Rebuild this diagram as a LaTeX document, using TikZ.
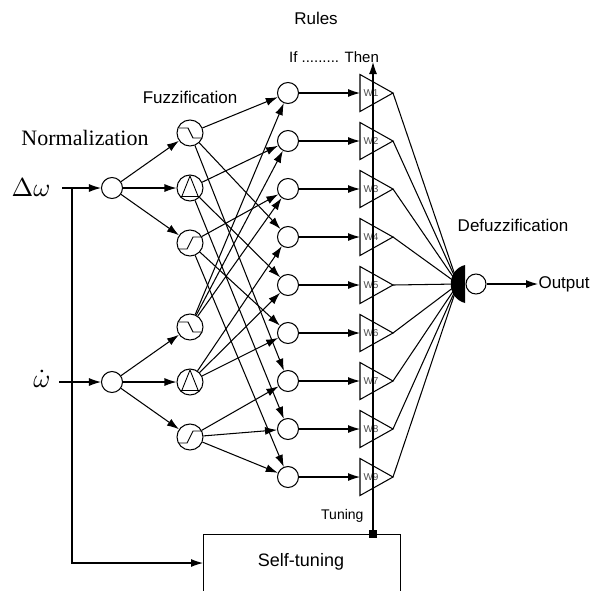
\documentclass[tikz,border=0pt]{standalone}
\usepackage{fontspec}
\setmainfont{Liberation Sans}
\newfontfamily\seriffont{Liberation Serif}
\usetikzlibrary{arrows.meta}
\begin{document}
\begin{tikzpicture}[x=1pt,y=-1pt, line width=1.05pt,
  arr/.style={-{Latex[length=12pt,width=8pt]}},
  inn/.style={circle,draw,minimum size=21pt,inner sep=0pt},
  fz/.style={circle,draw,minimum size=26pt,inner sep=0pt},
  rl/.style={circle,draw,minimum size=21pt,inner sep=0pt},
  lbl/.style={font=\fontsize{17}{20}\selectfont, inner sep=0pt},
  wlab/.style={font=\fontsize{10}{12}\selectfont, text=black!70, inner sep=0pt}]
\clip (0,0) rectangle (593,590);
% texts
\node[font=\seriffont\fontsize{22}{26}\selectfont, inner sep=0pt] (norm) at (85,138) {Normalization};
\node[lbl] (fuzz) at (190,97) {Fuzzification};
\node[lbl] (rules) at (316,18) {Rules};
\node[font=\fontsize{15}{18}\selectfont, inner sep=0pt] (ifthen) at (334,57) {If ......... Then};
\node[lbl] (defz) at (513,225) {Defuzzification};
\node[font=\fontsize{14}{17}\selectfont, inner sep=0pt, anchor=east] (tun) at (364,516) {Tuning};
% inputs
\node[inner sep=0pt, anchor=east] (dw) at (51,188) {\scalebox{2.6}{$\Delta\omega$}};
\node[inner sep=0pt, anchor=east] (wd) at (51,379) {\scalebox{2.6}{$\dot\omega$}};
\node[inn] (n1) at (112,188) {};
\node[inn] (n2) at (112,382) {};
\coordinate (i1) at (62,188);
\coordinate (i2) at (59,382);
\draw[arr] (i1) -- (n1);
\draw[arr] (i2) -- (n2);
% fuzz nodes
\node[fz] (f1) at (190,133) {};
\node[fz] (f2) at (190,188) {};
\node[fz] (f3) at (190,243) {};
\node[fz] (f4) at (190,327) {};
\node[fz] (f5) at (190,382) {};
\node[fz] (f6) at (190,437) {};
\foreach \a/\b in {n1/f1,n1/f2,n1/f3,n2/f4,n2/f5,n2/f6} \draw[arr] (\a) -- (\b);
% icons
\foreach \f in {f1,f4} \draw[line width=0.9pt] ([shift={(-11,-5)}]\f.center) -- ++(9,0) -- ++(5,10) -- ++(9,0);
\foreach \f in {f3,f6} \draw[line width=0.9pt] ([shift={(-11,6)}]\f.center) -- ++(8,0) -- ++(6,-12) -- ++(8,0);
\foreach \f in {f2,f5} {
  \draw[line width=0.9pt] ([shift={(-10,8)}]\f.center) -- ++(20,0);
  \draw[line width=0.9pt] ([shift={(-8,8)}]\f.center) -- ++(8,-20) -- ++(8,20);
}
% rules and weights
\foreach \k in {1,...,9} {
  \pgfmathsetmacro\yy{93+48*(\k-1)}
  \node[rl] (r\k) at (288,\yy) {};
  \coordinate (wl\k) at (360,\yy);
  \coordinate (wa\k) at (393,\yy);
  \draw (360,{\yy-18.5}) -- (wa\k) -- (360,{\yy+18.5}) -- cycle;
  \node[wlab] (wt\k) at (371,\yy) {W\k};
  \draw[arr] (r\k) -- (wl\k);
}
\foreach \a/\b in {f1/r1,f1/r4,f1/r7,f2/r2,f2/r5,f2/r8,f3/r3,f3/r6,f3/r9,
                   f4/r1,f4/r2,f4/r3,f5/r4,f5/r5,f5/r6,f6/r7,f6/r8,f6/r9}
  \draw[arr] (\a) -- (\b);
% defuzzification
\coordinate (dz) at (458,284);
\foreach \k in {1,...,9} \draw (wa\k) -- (dz);
\fill (465,265) .. controls (446,270) and (446,298) .. (465,303) -- cycle;
\node[circle,draw,minimum size=20pt,inner sep=0pt] (d) at (476,284) {};
\node[lbl, anchor=west] (out) at (538,284) {Output};
\draw[arr] (d) -- (out.west);
% self-tuning
\node[draw, minimum width=197pt, minimum height=70pt, anchor=north west, inner sep=0pt] (st) at (203,534) {};
\node[font=\fontsize{18}{21}\selectfont, inner sep=0pt] (stt) at (301,562) {Self-tuning};
\coordinate (j) at (72,188);
\coordinate (jb) at (203,563);
\draw[arr] (j) |- (jb);
\node[fill,minimum size=8pt,inner sep=0pt] (sq) at (373,534) {};
\coordinate (tt) at (373,62);
\draw[arr] (sq.center) -- (tt);
\end{tikzpicture}
\end{document}
